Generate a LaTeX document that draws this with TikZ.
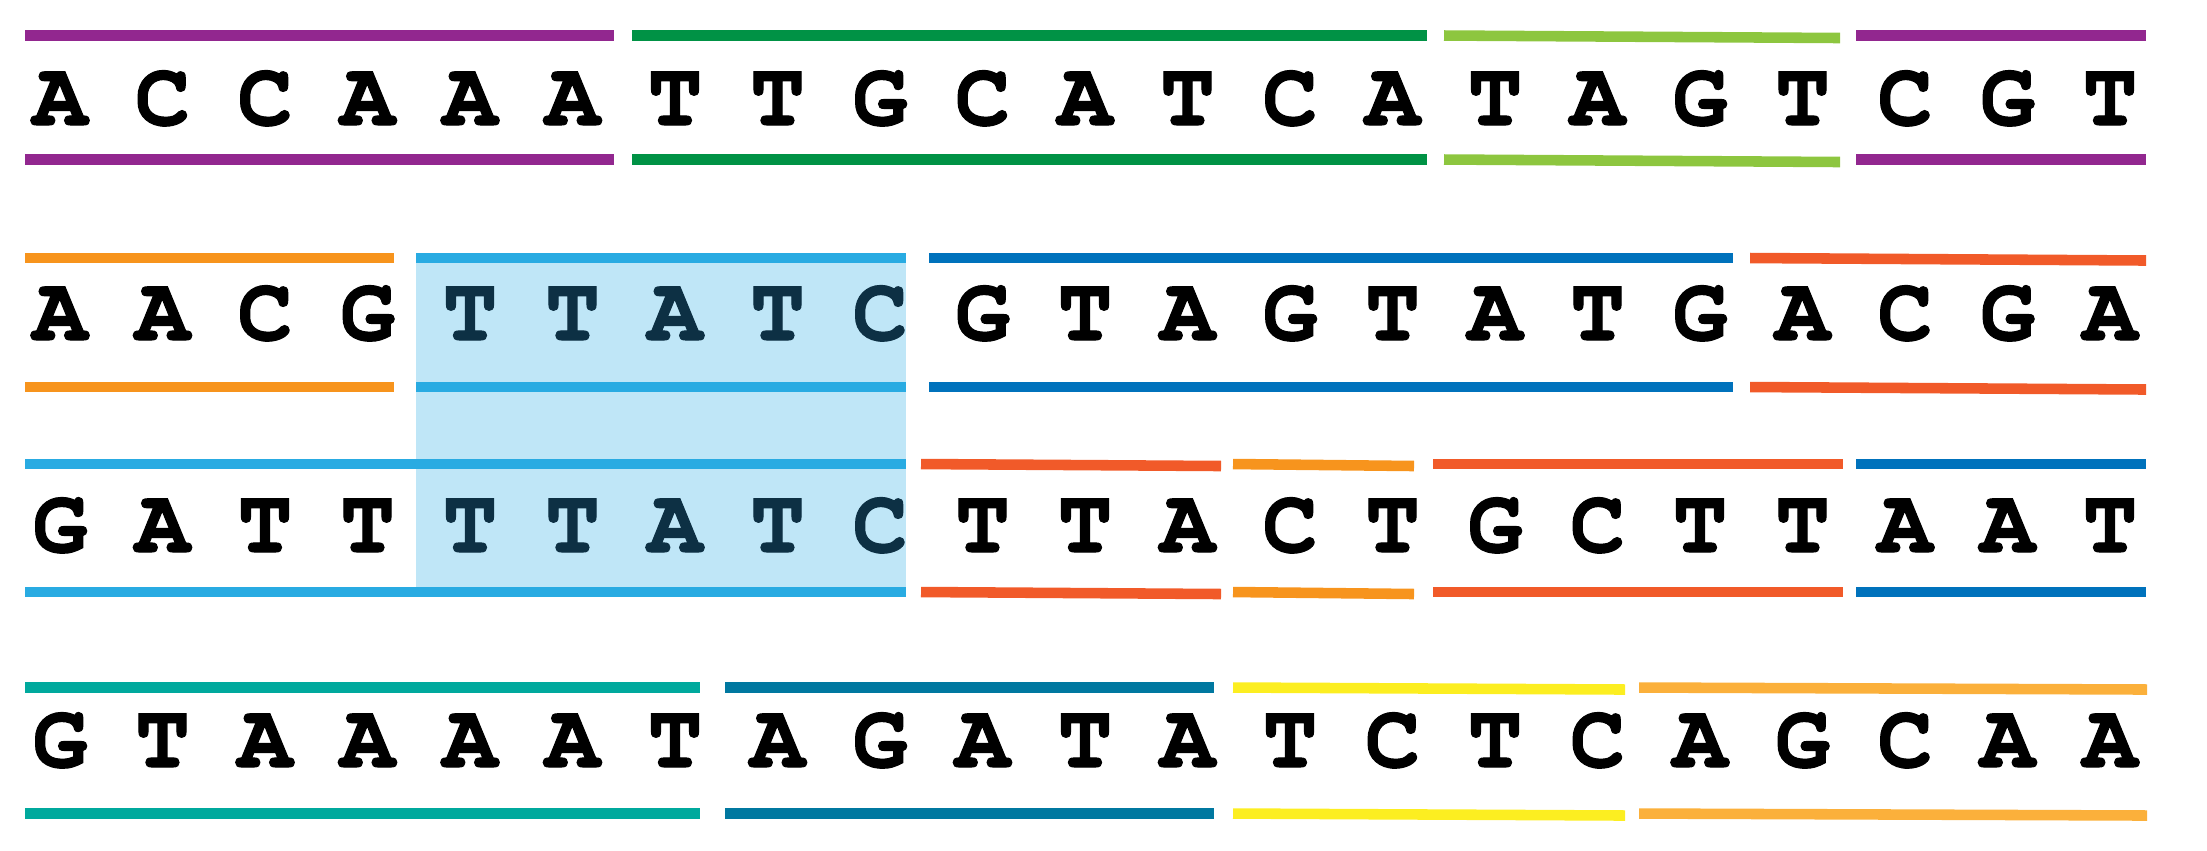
\documentclass[tikz,border=0pt]{standalone}
\usepackage{fontspec}
\newfontfamily\dnafont{TeX Gyre Cursor}[BoldFont={* Bold}, BoldFeatures={FakeBold=1.2}]
\definecolor{purpleseg}{HTML}{92278F}
\definecolor{greenseg}{HTML}{009245}
\definecolor{limeseg}{HTML}{8DC63F}
\definecolor{orangeseg}{HTML}{F7941D}
\definecolor{cyanseg}{HTML}{29ABE2}
\definecolor{blueseg}{HTML}{0072BC}
\definecolor{redseg}{HTML}{F15A29}
\definecolor{tealseg}{HTML}{00A99D}
\definecolor{petrolseg}{HTML}{0078A0}
\definecolor{yellowseg}{HTML}{FCEE21}
\definecolor{amberseg}{HTML}{FBB03B}
\definecolor{boxfill}{HTML}{BFE6F7}
\definecolor{boxtext}{HTML}{0D3044}
\begin{document}
\begin{tikzpicture}[x=0.01cm, y=-0.01cm,
        bar/.style={line width=3pt},
        base/.style={font=\dnafont\bfseries\fontsize{26}{26}\selectfont,
            inner sep=0pt, anchor=base}]
    \useasboundingbox (0,0) rectangle (2207,850);
    % shared block
    \fill[boxfill] (416,253) rectangle (906,597);
    % row 1
    \foreach \yy in {35.5,159.5} {
        \draw[bar, purpleseg] (25,\yy) -- (614,\yy);
        \draw[bar, greenseg] (632,\yy) -- (1427,\yy);
        \draw[bar, limeseg] (1444,\yy) -- (1840,\yy+2.5);
        \draw[bar, purpleseg] (1856,\yy) -- (2146,\yy);
    }
    \foreach \c [count=\i from 0] in {A,C,C,A,A,A,T,T,G,C,A,T,C,A,T,A,G,T,C,G,T}
        \node[base] (a\i) at (60+102.5*\i,125) {\c};
    % row 2
    \foreach \yy in {258,387} {
        \draw[bar, orangeseg] (25,\yy) -- (394,\yy);
        \draw[bar, cyanseg] (416,\yy) -- (906,\yy);
        \draw[bar, blueseg] (929,\yy) -- (1733,\yy);
        \draw[bar, redseg] (1750,\yy) -- (2146,\yy+2.5);
    }
    \foreach \c [count=\i from 0] in {A,A,C,G,T,T,A,T,C,G,T,A,G,T,A,T,G,A,C,G,A} {
        \ifnum\i>3 \ifnum\i<9 \def\lc{boxtext}\else\def\lc{black}\fi \else\def\lc{black}\fi
        \node[base, text=\lc] (b\i) at (60+102.5*\i,340) {\c};
    }
    % row 3
    \foreach \yy in {464,592} {
        \draw[bar, cyanseg] (25,\yy) -- (906,\yy);
        \draw[bar, redseg] (921,\yy) -- (1221,\yy+2);
        \draw[bar, orangeseg] (1233,\yy) -- (1414,\yy+2);
        \draw[bar, redseg] (1433,\yy) -- (1843,\yy);
        \draw[bar, blueseg] (1856,\yy) -- (2146,\yy);
    }
    \foreach \c [count=\i from 0] in {G,A,T,T,T,T,A,T,C,T,T,A,C,T,G,C,T,T,A,A,T} {
        \ifnum\i>3 \ifnum\i<9 \def\lc{boxtext}\else\def\lc{black}\fi \else\def\lc{black}\fi
        \node[base, text=\lc] (c\i) at (60+102.5*\i,552) {\c};
    }
    % row 4
    \foreach \yy in {687.5,813.5} {
        \draw[bar, tealseg] (25,\yy) -- (700,\yy);
        \draw[bar, petrolseg] (725,\yy) -- (1214,\yy);
        \draw[bar, yellowseg] (1233,\yy) -- (1625,\yy+2);
        \draw[bar, amberseg] (1639,\yy) -- (2147,\yy+2);
    }
    \foreach \c [count=\i from 0] in {G,T,A,A,A,A,T,A,G,A,T,A,T,C,T,C,A,G,C,A,A}
        \node[base] (d\i) at (60+102.5*\i,767) {\c};
\end{tikzpicture}
\end{document}
